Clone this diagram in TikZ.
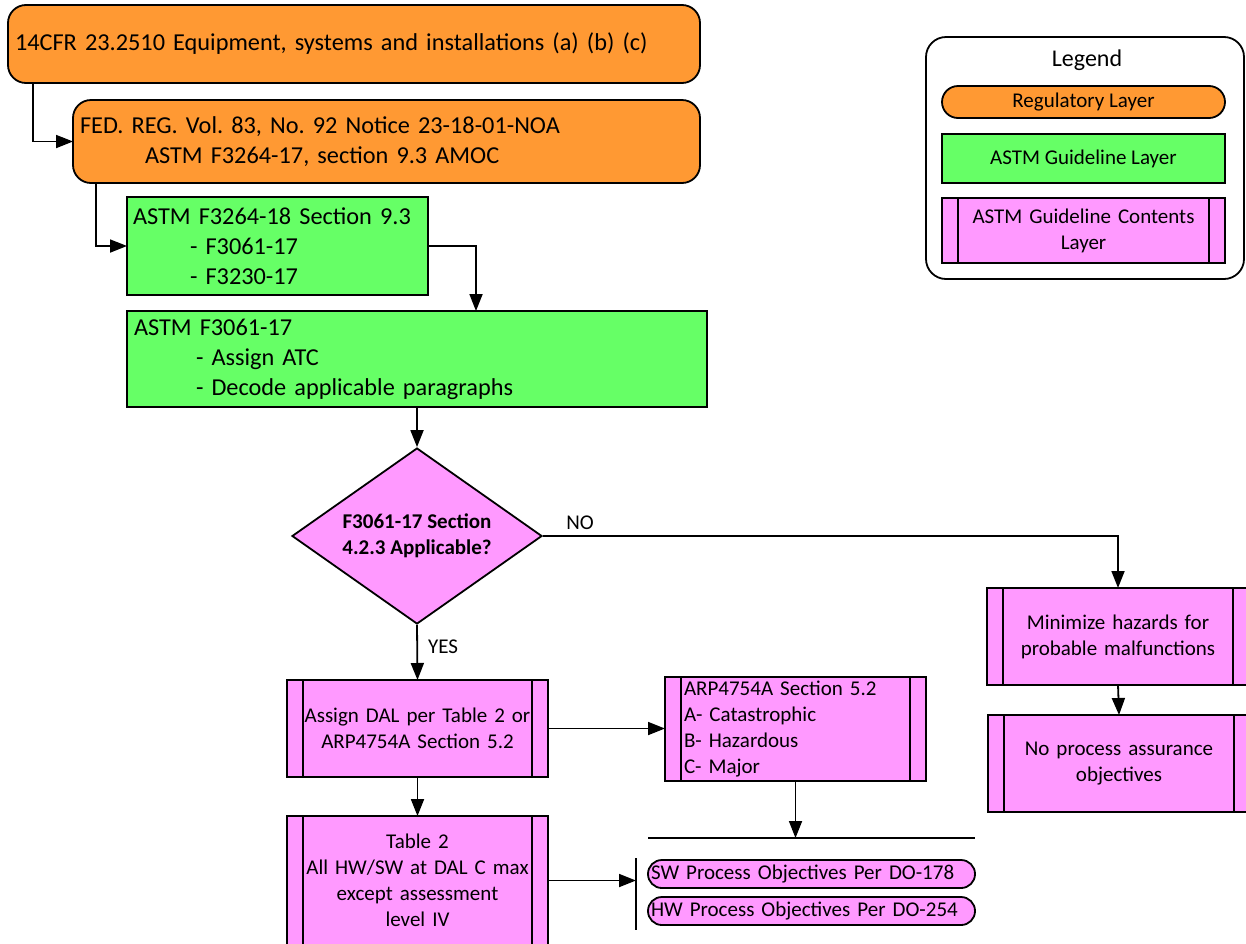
\documentclass[tikz,border=0pt]{standalone}
\usepackage{fontspec}
\setmainfont{Carlito}
\usetikzlibrary{arrows.meta,shapes.geometric}

\definecolor{regor}{RGB}{255,153,51}
\definecolor{astmgr}{RGB}{102,255,102}
\definecolor{contpk}{RGB}{255,153,255}

\tikzset{
  base/.style={draw=black, line width=1.8pt, inner ysep=0pt, outer sep=0pt, anchor=north west},
  bigtxt/.style={font=\frenchspacing\fontsize{24.3}{30}\selectfont},
  smalltxt/.style={font=\frenchspacing\fontsize{21}{26}\selectfont},
  reg/.style={base, bigtxt, fill=regor, rounded corners=18pt, align=left},
  guide/.style={base, bigtxt, fill=astmgr, align=left},
  subr/.style={base, smalltxt, fill=contpk,
    path picture={
      \draw[line width=1.8pt] ([xshift=16pt]path picture bounding box.north west) -- ([xshift=16pt]path picture bounding box.south west);
      \draw[line width=1.8pt] ([xshift=-16pt]path picture bounding box.north east) -- ([xshift=-16pt]path picture bounding box.south east);}},
  pill/.style={base, smalltxt, fill=contpk, rounded corners=13.9pt, inner xsep=3pt, align=left},
  arr/.style={line width=1.8pt, -{Triangle[length=17pt,width=13pt]}},
  conn/.style={line width=1.8pt},
}

\begin{document}
\begin{tikzpicture}[x=1pt,y=-1pt]
\fill[white, use as bounding box] (0,0) rectangle (1246,943);

% regulatory layer
\node[reg, inner xsep=7pt, text width=678pt, minimum height=78pt] (A) at (8,5)
  {14CFR 23.2510 Equipment, systems and installations (a) (b) (c)};
\node[reg, inner xsep=7pt, text width=613pt, minimum height=83pt] (B) at (73,100)
  {FED. REG. Vol. 83, No. 92 Notice 23-18-01-NOA\\\hspace*{65pt}ASTM F3264-17, section 9.3 AMOC};

% ASTM guideline layer
\node[guide, inner xsep=6pt, text width=289pt, minimum height=98pt] (C) at (127,197)
  {ASTM F3264-18 Section 9.3\\\hspace*{57pt}- F3061-17\\\hspace*{57pt}- F3230-17};
\node[guide, inner xsep=7pt, text width=566pt, minimum height=96pt] (D) at (127,311)
  {ASTM F3061-17\\\hspace*{62pt}- Assign ATC\\\hspace*{62pt}- Decode applicable paragraphs};

% decision
\node[diamond, draw=black, line width=1.8pt, fill=contpk, aspect=1.42, inner sep=0pt,
      minimum width=250pt, minimum height=176pt, align=center,
      font=\bfseries\fontsize{21}{26}\selectfont] (Q) at (417,536)
  {F3061-17 Section\\4.2.3 Applicable?};

% guideline contents
\node[subr, inner xsep=16pt, text width=229pt, minimum height=97pt, align=center] (E) at (287,680)
  {Assign DAL per Table 2 or\\ARP4754A Section 5.2};
\node[subr, inner xsep=19pt, text width=223pt, minimum height=104pt, align=left] (F) at (665,677)
  {ARP4754A Section 5.2\\A- Catastrophic\\B- Hazardous\\C- Major};
\node[subr, inner xsep=16pt, text width=229pt, minimum height=129pt, align=center] (G) at (287,816)
  {Table 2\\All HW/SW at DAL C max\\except assessment\\level IV};
\node[subr, inner xsep=16pt, text width=230pt, minimum height=97pt, align=center] (H) at (987,588)
  {Minimize hazards for\\probable malfunctions};
\node[subr, inner xsep=16pt, text width=230pt, minimum height=97pt, align=center] (I) at (988,715)
  {No process assurance\\objectives};

\node[pill, text width=321pt, minimum height=28pt] (SW) at (648,860) {SW Process Objectives Per DO-178};
\node[pill, text width=321pt, minimum height=28pt] (HW) at (648,897) {HW Process Objectives Per DO-254};

% bus lines
\coordinate (busL) at (648,838);
\coordinate (busR) at (975,838);
\coordinate (barT) at (636,858);
\coordinate (barB) at (636,930);
\draw[conn] (busL) -- (busR);
\draw[conn] (barT) -- (barB);

% connectors
\draw[arr] ([xshift=25pt]A.south west) |- (B.west);
\draw[arr] ([xshift=23pt]B.south west) |- (C.west);
\draw[arr] (C.east) -| ([xshift=349pt]D.north west);
\draw[arr] (D.south) -- (Q.north);
\draw[arr] (Q.east) -| (H.north);
\draw[arr] (Q.south) -- (E.north);
\draw[arr] (E.east) -- (E.east -| F.west);
\draw[arr] (E.south) -- (G.north);
\draw[arr] (F.south) -- (F.south |- busL);
\draw[arr] (G.east) -- (G.east -| barT);
\draw[arr] (H.south) -- (I.north);

\node[smalltxt, anchor=center] (nolbl) at (580,523) {NO};
\node[smalltxt, anchor=center] (yeslbl) at (443,647) {YES};

% legend
\draw[line width=1.8pt, rounded corners=20pt] (926,37) rectangle (1244,279);
\node[font=\fontsize{24}{29}\selectfont] (legtitle) at (1087,60) {Legend};
\node[base, smalltxt, fill=regor, rounded corners=16pt, minimum width=283pt, minimum height=32pt, inner xsep=0pt] (L1) at (942,86) {Regulatory Layer};
\node[base, smalltxt, fill=astmgr, minimum width=283pt, minimum height=49pt, inner xsep=0pt] (L2) at (942,134) {ASTM Guideline Layer};
\node[subr, inner xsep=16pt, text width=251pt, minimum height=65pt, align=center] (L3) at (942,198)
  {ASTM Guideline Contents\\Layer};
\end{tikzpicture}
\end{document}
